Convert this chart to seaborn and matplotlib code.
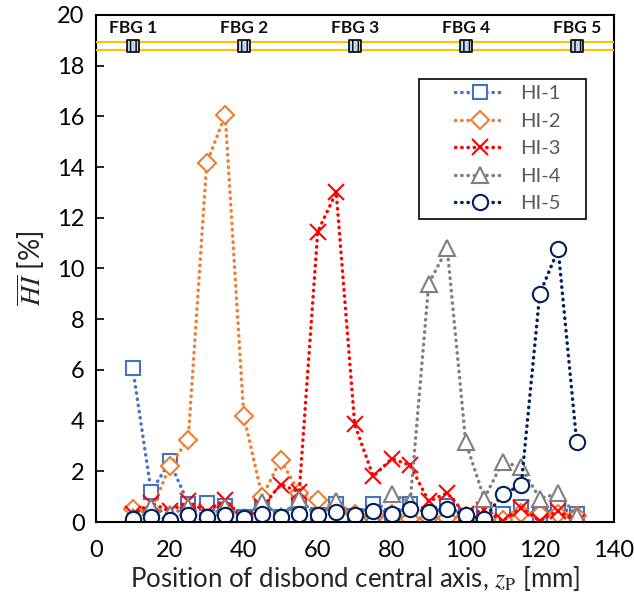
import matplotlib
matplotlib.use('Agg')
import matplotlib.pyplot as plt
from matplotlib.patches import Rectangle
import seaborn as sns

# posições do eixo central do descolamento (mm)
z_p = [10, 15, 20, 25, 30, 35, 40, 45, 50, 55, 60, 65, 70,
       75, 80, 85, 90, 95, 100, 105, 110, 115, 120, 125, 130]

hi_1 = [6.07, 1.19, 2.39, 0.73, 0.75, 0.62, 0.2, 0.78, 0.2, 0.78, 0.28, 0.72, 0.25,
        0.72, 0.25, 0.7, 0.3, 0.62, 0.25, 0.4, 0.3, 0.6, 0.25, 0.6, 0.3]
hi_2 = [0.52, 0.4, 2.22, 3.25, 14.15, 16.05, 4.2, 1.0, 2.46, 1.15, 0.88, 0.55, 0.3,
        0.16, 0.3, 0.12, 0.16, 0.16, 0.25, 0.05, 0.1, 0.35, 0.3, 0.3, 0.25]
hi_3 = [0.3, 0.75, 0.43, 0.82, 0.4, 0.89, 0.12, 0.6, 1.48, 1.19, 11.45, 13.0, 3.85,
        1.8, 2.5, 2.24, 0.82, 1.15, 0.3, 0.47, 0.05, 0.55, 0.05, 0.45, 0.0]
hi_4 = [0.2, 0.6, 0.3, 0.6, 0.2, 0.6, 0.2, 0.78, 0.25, 0.9, 0.25, 0.85, 0.2,
        0.25, 1.1, 0.8, 9.4, 10.8, 3.15, 0.93, 2.38, 2.16, 0.93, 1.13, 0.24]
hi_5 = [0.12, 0.19, 0.1, 0.27, 0.19, 0.27, 0.16, 0.32, 0.19, 0.33, 0.27, 0.4, 0.27,
        0.45, 0.33, 0.53, 0.4, 0.52, 0.27, 0.12, 1.11, 1.45, 9.0, 10.75, 3.14]

labels = ['HI-1', 'HI-2', 'HI-3', 'HI-4', 'HI-5']
cores = ['#4472C4', '#ED7D31', '#FF0000', '#7F7F7F', '#002060']
marcadores = ['s', 'D', 'x', '^', 'o']
tamanhos = [10, 9.5, 12, 11.5, 11]

# sensores FBG
fbg_nomes = ['FBG 1', 'FBG 2', 'FBG 3', 'FBG 4', 'FBG 5']
fbg_pos = [10, 40, 70, 100, 130]
fibra_y = [18.62, 18.95]
fbg_y = 18.78
fbg_texto_y = 19.5

sns.set_style('white')
plt.rcParams['font.family'] = ['Lato', 'DejaVu Sans']
plt.rcParams['mathtext.fontset'] = 'stix'

fig = plt.figure(figsize=(6.34, 5.96), dpi=100)
ax = fig.add_axes([0.151, 0.124, 0.817, 0.851])

series = [hi_1, hi_2, hi_3, hi_4, hi_5]
for vals, lab, cor, mk, ms in zip(series, labels, cores, marcadores, tamanhos):
    sns.lineplot(x=z_p, y=vals, ax=ax, label=lab, color=cor, marker=mk,
                 markersize=ms, markerfacecolor='white', markeredgecolor=cor,
                 markeredgewidth=1.5, linewidth=2.5,
                 linestyle=(0, (0.1, 1.7)), dash_capstyle='round')

# fibra e sensores
for fy in fibra_y:
    ax.axhline(fy, color='#FFC000', linewidth=1.5, zorder=3)
ax.scatter(fbg_pos, [fbg_y] * len(fbg_pos), marker='s', s=70, facecolor='#BDD7EE',
           edgecolor='black', linewidth=1.2, hatch='|||', zorder=4)
for nome, px in zip(fbg_nomes, fbg_pos):
    ax.text(px, fbg_texto_y, nome, ha='center', va='center', fontsize=12.5,
            fontweight='bold', color='#111111')

ax.set_xlim(0, 140)
ax.set_ylim(0, 20)
ax.set_xticks(range(0, 141, 20))
ax.set_yticks(range(0, 21, 2))
ax.tick_params(axis='both', direction='in', length=6, width=1.2, labelsize=17,
               colors='black', left=True, bottom=True)
ax.tick_params(axis='x', pad=13)
ax.tick_params(axis='y', pad=8)
for s in ax.spines.values():
    s.set_color('black')
    s.set_linewidth(1.5)

ax.set_xlabel(r'Position of disbond central axis, $z_{\mathrm{P}}$ [mm]', fontsize=18.5,
              labelpad=2)
ax.set_ylabel(r'$\overline{HI}$ [%]', fontsize=20, labelpad=7)

# legenda com moldura larga (como no Excel)
ax.add_patch(Rectangle((0.625, 0.598), 0.321, 0.276, transform=ax.transAxes,
                       facecolor='white', edgecolor='black', linewidth=1.2, zorder=5))
leg = ax.legend(loc='center', bbox_to_anchor=(0.795, 0.736), fontsize=14.5,
                handlelength=2.5, handletextpad=0.75, labelspacing=0.52,
                borderpad=0.2, frameon=False)
leg.set_zorder(6)
for t in leg.get_texts():
    t.set_color('#595959')

fig.savefig('out.png', dpi=100)
